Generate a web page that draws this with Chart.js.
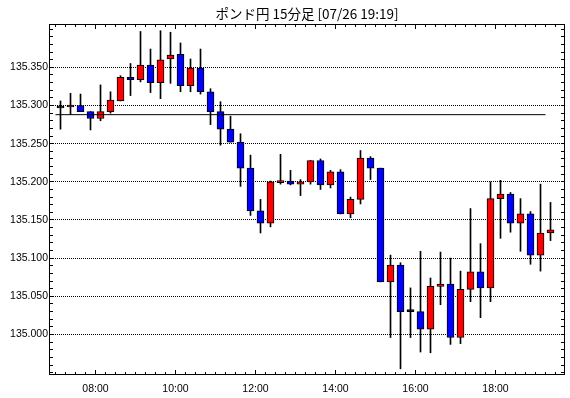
<!DOCTYPE html>
<html><head><meta charset="utf-8">
<script src="https://cdn.jsdelivr.net/npm/chart.js@4"></script>
<style>html,body{margin:0;padding:0;background:#fff}</style>
</head><body>
<canvas id="c" width="570" height="398" style="width:570px;height:398px;display:block"></canvas>
<script>
const titleText = 'ポンド円 15分足 [07/26 19:19]';
const times = ['07:00','07:15','07:30','07:45','08:00','08:15','08:30','08:45','09:00','09:15',
  '09:30','09:45','10:00','10:15','10:30','10:45','11:00','11:15','11:30','11:45',
  '12:00','12:15','12:30','12:45','13:00','13:15','13:30','13:45','14:00','14:15',
  '14:30','14:45','15:00','15:15','15:30','15:45','16:00','16:15','16:30','16:45',
  '17:00','17:15','17:30','17:45','18:00','18:15','18:30','18:45','19:00','19:15'];
const opens = [135.297,135.298,135.300,135.292,135.283,135.292,135.306,135.337,135.334,135.353,
  135.330,135.361,135.367,135.326,135.349,135.318,135.292,135.269,135.252,135.218,
  135.162,135.146,135.199,135.201,135.197,135.200,135.228,135.196,135.213,135.158,
  135.177,135.231,135.218,135.069,135.091,135.030,135.030,135.007,135.063,135.066,
  134.996,135.059,135.082,135.061,135.178,135.184,135.146,135.158,135.104,135.133];
const highs = [135.306,135.316,135.315,135.292,135.327,135.318,135.339,135.355,135.397,135.374,
  135.398,135.396,135.382,135.361,135.374,135.322,135.305,135.286,135.263,135.235,
  135.177,135.201,135.236,135.215,135.203,135.228,135.230,135.215,135.216,135.180,
  135.241,135.233,135.218,135.104,135.094,135.061,135.109,135.074,135.108,135.100,
  135.083,135.165,135.119,135.200,135.202,135.186,135.178,135.161,135.197,135.173];
const lows = [135.269,135.288,135.292,135.268,135.280,135.290,135.306,135.313,135.331,135.317,
  135.309,135.329,135.318,135.318,135.315,135.275,135.248,135.252,135.194,135.156,
  135.133,135.141,135.197,135.196,135.182,135.197,135.190,135.192,135.158,135.153,
  135.171,135.203,135.069,134.996,134.955,134.996,134.977,134.976,135.039,134.987,
  134.988,135.043,135.022,135.043,135.126,135.134,135.109,135.092,135.083,135.123];
const closes = [135.297,135.300,135.292,135.283,135.292,135.307,135.337,135.334,135.353,135.330,
  135.360,135.366,135.326,135.349,135.318,135.292,135.269,135.252,135.218,135.162,
  135.146,135.200,135.201,135.197,135.200,135.228,135.196,135.213,135.158,135.177,
  135.231,135.218,135.069,135.091,135.030,135.030,135.007,135.063,135.066,134.996,
  135.059,135.082,135.061,135.178,135.184,135.146,135.158,135.104,135.133,135.137];
const xTickLabels = ['08:00','10:00','12:00','14:00','16:00','18:00'];
const yTickValues = [135.000,135.050,135.100,135.150,135.200,135.250,135.300,135.350];
const refLevel = 135.288;
const refFrom = '07:00', refTo = '19:15';

const barMinutes = 15;
const toMin = s => { const [h, m] = s.split(':').map(Number); return h * 60 + m; };
const mid = t => toMin(t) + barMinutes / 2;

const wickData = times.map((t, i) => ({ x: mid(t), y: [lows[i], highs[i]] }));
const bodyData = times.map((t, i) => ({ x: mid(t), y: [opens[i], closes[i]] }));
const bodyColors = times.map((t, i) => closes[i] > opens[i] ? '#ff0000' : (closes[i] < opens[i] ? '#0000ff' : '#000000'));

const frameTicks = {
  id: 'frameTicks',
  afterDatasetsDraw(chart) {
    const { ctx, chartArea: { left, right, top, bottom }, scales: { x, y } } = chart;
    ctx.save();
    ctx.strokeStyle = '#000';
    ctx.lineWidth = 1;
    ctx.beginPath();
    for (let m = Math.ceil(x.min / barMinutes) * barMinutes; m <= x.max; m += barMinutes) {
      const px = Math.floor(x.getPixelForValue(m)) + 0.5;
      const len = (m % 120 === 0) ? 5 : 3;
      ctx.moveTo(px, bottom); ctx.lineTo(px, bottom - len);
      ctx.moveTo(px, top); ctx.lineTo(px, top + len);
    }
    for (let k = Math.ceil(y.min * 100); k <= Math.floor(y.max * 100); k++) {
      const py = Math.floor(y.getPixelForValue(k / 100)) + 0.5;
      ctx.moveTo(left, py); ctx.lineTo(left + 4, py);
      ctx.moveTo(right, py); ctx.lineTo(right - 4, py);
    }
    ctx.stroke();
    ctx.strokeRect(left + 0.5, top + 0.5, right - left - 1, bottom - top - 1);
    ctx.restore();
  }
};

const labelFont = { family: '"Liberation Sans", Arial, sans-serif', size: 10.5 };

new Chart(document.getElementById('c'), {
  type: 'bar',
  data: {
    datasets: [
      { type: 'line', data: [{ x: toMin(refFrom), y: refLevel }, { x: toMin(refTo), y: refLevel }],
        borderColor: '#000', borderWidth: 1, pointRadius: 0, order: 0 },
      { data: bodyData, backgroundColor: bodyColors, borderColor: '#000', borderWidth: 1,
        borderSkipped: false, barThickness: 7, minBarLength: 2, grouped: false, order: 1 },
      { data: wickData, backgroundColor: '#000', borderWidth: 0, barThickness: 1, grouped: false, order: 2 }
    ]
  },
  options: {
    responsive: false,
    animation: false,
    devicePixelRatio: 1,
    layout: { padding: { left: 0, right: 5, top: 0, bottom: 0 } },
    plugins: {
      legend: { display: false },
      tooltip: { enabled: false },
      title: { display: true, text: titleText, fullSize: false, color: '#000',
        font: { family: '"Noto Sans CJK JP", sans-serif', size: 13.5, weight: 'normal', lineHeight: '16px' },
        padding: { top: 6, bottom: 2 } }
    },
    scales: {
      x: {
        type: 'linear', min: 410.25, max: 1184.25, offset: false,
        grid: { display: false, drawTicks: false },
        border: { display: false },
        afterBuildTicks: s => { s.ticks = xTickLabels.map(t => ({ value: toMin(t) })); },
        afterFit: s => { s.height = 23; },
        ticks: { autoSkip: false, maxRotation: 0, padding: 8, color: '#000', font: labelFont,
          callback: (v, i) => xTickLabels[i] }
      },
      y: {
        type: 'linear', min: 134.9469, max: 135.4068,
        grid: { color: '#000', lineWidth: 1, drawTicks: false },
        border: { display: false, dash: [1, 1] },
        afterBuildTicks: s => { s.ticks = yTickValues.map(v => ({ value: v })); },
        afterFit: s => { s.width = 49; },
        ticks: { padding: 1, color: '#000', font: labelFont, callback: v => v.toFixed(3) }
      }
    }
  },
  plugins: [frameTicks]
});
</script>
</body></html>
